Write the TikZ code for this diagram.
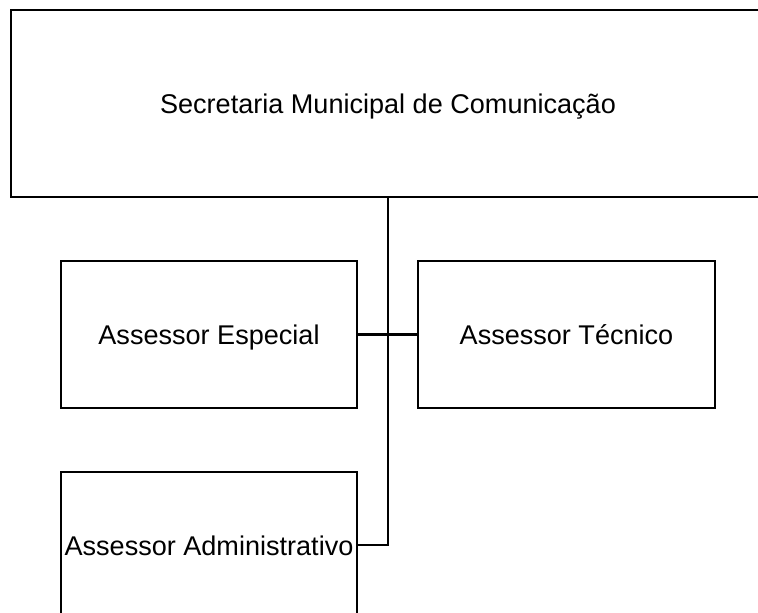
\documentclass[tikz,border=0pt]{standalone}
\usepackage{fontspec}
\setmainfont{Liberation Sans}
\tikzset{
  cargo/.style={draw, line width=1.9pt, align=center, inner sep=0pt,
    text height=16.5pt, text depth=1.5pt, font=\fontsize{20.3}{24}\selectfont},
  ligacao/.style={line width=1.7pt}
}

\begin{document}
\begin{tikzpicture}[x=0.75pt,y=0.75pt,yscale=-1,xscale=1]
%set diagram frame: 758 x 613
\useasboundingbox (0,0) rectangle (758,613);
\clip (0,0) rectangle (758,613);

%Shape: Rectangle [secretaria]
\node [cargo, minimum width=565.5pt, minimum height=140.25pt] (sec) at (388,103.5) {Secretaria Municipal de Comunica\c{c}\~ao};
%Shape: Rectangle [especial]
\node [cargo, minimum width=222pt, minimum height=110.25pt] (esp) at (209,334.5) {Assessor Especial};
%Shape: Rectangle [tecnico]
\node [cargo, minimum width=222.75pt, minimum height=110.25pt] (tec) at (566.5,334.5) {Assessor T\'ecnico};
%Shape: Rectangle [administrativo]
\node [cargo, minimum width=222pt, minimum height=109.5pt] (adm) at (209,545) {Assessor Administrativo};

%Straight Lines
\draw [ligacao] (sec.south) |- (adm.east);
\draw [ligacao] (esp.east) -- (tec.west);

\end{tikzpicture}
\end{document}
